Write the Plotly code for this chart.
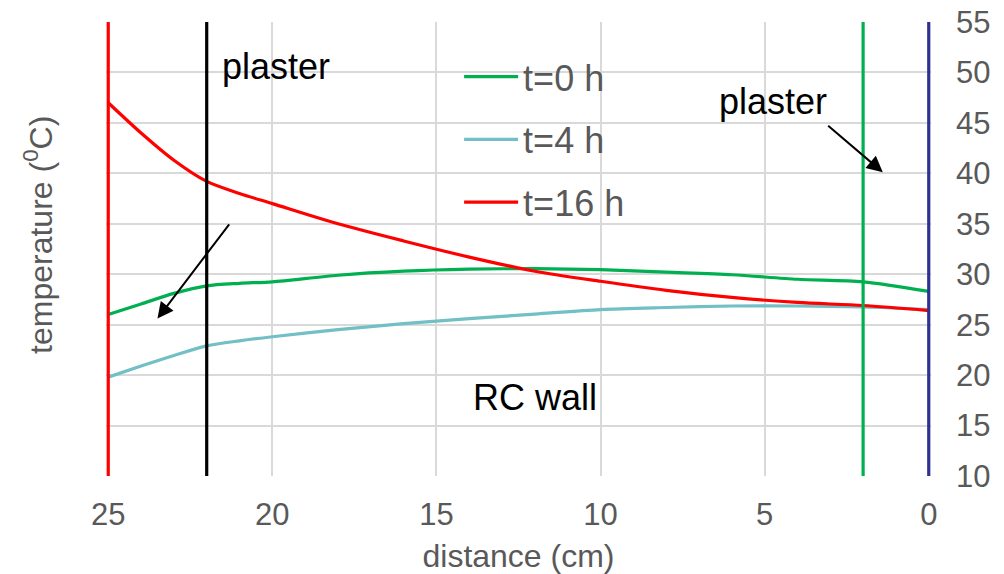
import plotly.graph_objects as go

# distance from the inner face (cm) and temperatures (°C) for each time step
distance = [25, 24, 23, 22, 21, 20, 18, 16, 14, 12, 10, 8, 6, 4, 2, 0]
temp_t0 = [26.0, 27.05, 28.1, 28.85, 29.1, 29.25, 29.9, 30.3, 30.5, 30.55, 30.45, 30.2, 29.95, 29.5, 29.25, 28.3]
temp_t4 = [19.8, 20.9, 21.95, 22.9, 23.4, 23.8, 24.5, 25.1, 25.6, 26.05, 26.5, 26.7, 26.85, 26.85, 26.75, 26.5]
temp_t16 = [47.0, 44.0, 41.3, 39.2, 38.0, 37.0, 35.0, 33.3, 31.7, 30.3, 29.3, 28.4, 27.7, 27.2, 26.9, 26.4]

series_names = ["t=0 h", "t=4 h", "t=16 h"]
series_colors = ["#00B050", "#72BFC5", "#FF0000"]

# layer boundaries (cm) and their line colours
boundaries = [25, 22, 2, 0]
boundary_colors = ["#FF0000", "#000000", "#00B050", "#2E3192"]

# pointer arrows towards the plaster layers: (tail x, tail y, head x, head y)
arrows = [(3.11, 44.85, 1.40, 40.1), (21.28, 35.1, 23.5, 25.6)]

x_ticks = [25, 20, 15, 10, 5, 0]
y_ticks = [10, 15, 20, 25, 30, 35, 40, 45, 50, 55]
y_min, y_max = 10, 55

FONT = "Liberation Sans, Arial, sans-serif"
GREY = "#595959"

fig = go.Figure()

for i, (name, ys, col) in enumerate(zip(series_names, [temp_t0, temp_t4, temp_t16], series_colors)):
    fig.add_trace(go.Scatter(
        x=distance, y=ys, name=name, mode="lines",
        line=dict(color=col, width=3.2, shape="spline", smoothing=0.8),
        legendgroup=f"g{i}",
    ))

for xb, col in zip(boundaries, boundary_colors):
    fig.add_trace(go.Scatter(
        x=[xb, xb], y=[y_min, y_max], mode="lines",
        line=dict(color=col, width=3.2), showlegend=False, hoverinfo="skip",
    ))

annotations = [
    dict(x=19.9, y=50.6, xref="x", yref="y", text="plaster", showarrow=False,
         font=dict(family=FONT, size=36, color="black")),
    dict(x=4.75, y=47.15, xref="x", yref="y", text="plaster", showarrow=False,
         font=dict(family=FONT, size=36, color="black")),
    dict(x=12.0, y=17.8, xref="x", yref="y", text="RC wall", showarrow=False,
         font=dict(family=FONT, size=36, color="black")),
    # y axis title on the left side
    dict(x=-0.0824, y=0.531, xref="paper", yref="paper", text="temperature (<sup>0</sup>C)",
         textangle=-90, showarrow=False, xanchor="center", yanchor="middle",
         font=dict(family=FONT, size=32, color=GREY)),
]
for x0, y0, x1, y1 in arrows:
    annotations.append(dict(
        x=x1, y=y1, ax=x0, ay=y0, xref="x", yref="y", axref="x", ayref="y",
        text="", showarrow=True, arrowhead=2, arrowsize=1.6, arrowwidth=2, arrowcolor="black",
    ))

# white panel behind the legend
shapes = [
    dict(type="rect", xref="paper", yref="paper", x0=0.3927, x1=0.675, y0=0.5374, y1=0.9427,
         fillcolor="white", line=dict(width=0), layer="between"),
]

pad = 0.0686
fig.update_layout(
    width=1004, height=574,
    margin=dict(l=106, r=73, t=22, b=98, autoexpand=False),
    paper_bgcolor="white", plot_bgcolor="white",
    font=dict(family=FONT, color=GREY),
    showlegend=True,
    legend=dict(
        x=0.428, y=0.9456, xanchor="left", yanchor="top",
        bgcolor="rgba(255,255,255,0)", borderwidth=0,
        font=dict(family=FONT, size=36, color=GREY),
        tracegroupgap=13, itemwidth=54,
        traceorder="grouped",
    ),
    annotations=annotations,
    shapes=shapes,
    xaxis=dict(
        range=[25 + pad, -pad], tickvals=x_ticks, automargin=False,
        showgrid=True, gridcolor="#D9D9D9", gridwidth=1.5,
        zeroline=False, showline=False, ticks="",
        tickfont=dict(family=FONT, size=31, color=GREY),
        ticklabelstandoff=17,
        title=dict(text="distance (cm)", font=dict(family=FONT, size=32, color=GREY), standoff=14),
    ),
    yaxis=dict(
        range=[y_min, y_max], tickvals=y_ticks, side="right", automargin=False,
        showgrid=True, gridcolor="#D9D9D9", gridwidth=1.5,
        zeroline=False, showline=False, ticks="",
        tickfont=dict(family=FONT, size=31, color=GREY),
        ticklabelstandoff=24,
    ),
)

fig.write_html("out.html")
